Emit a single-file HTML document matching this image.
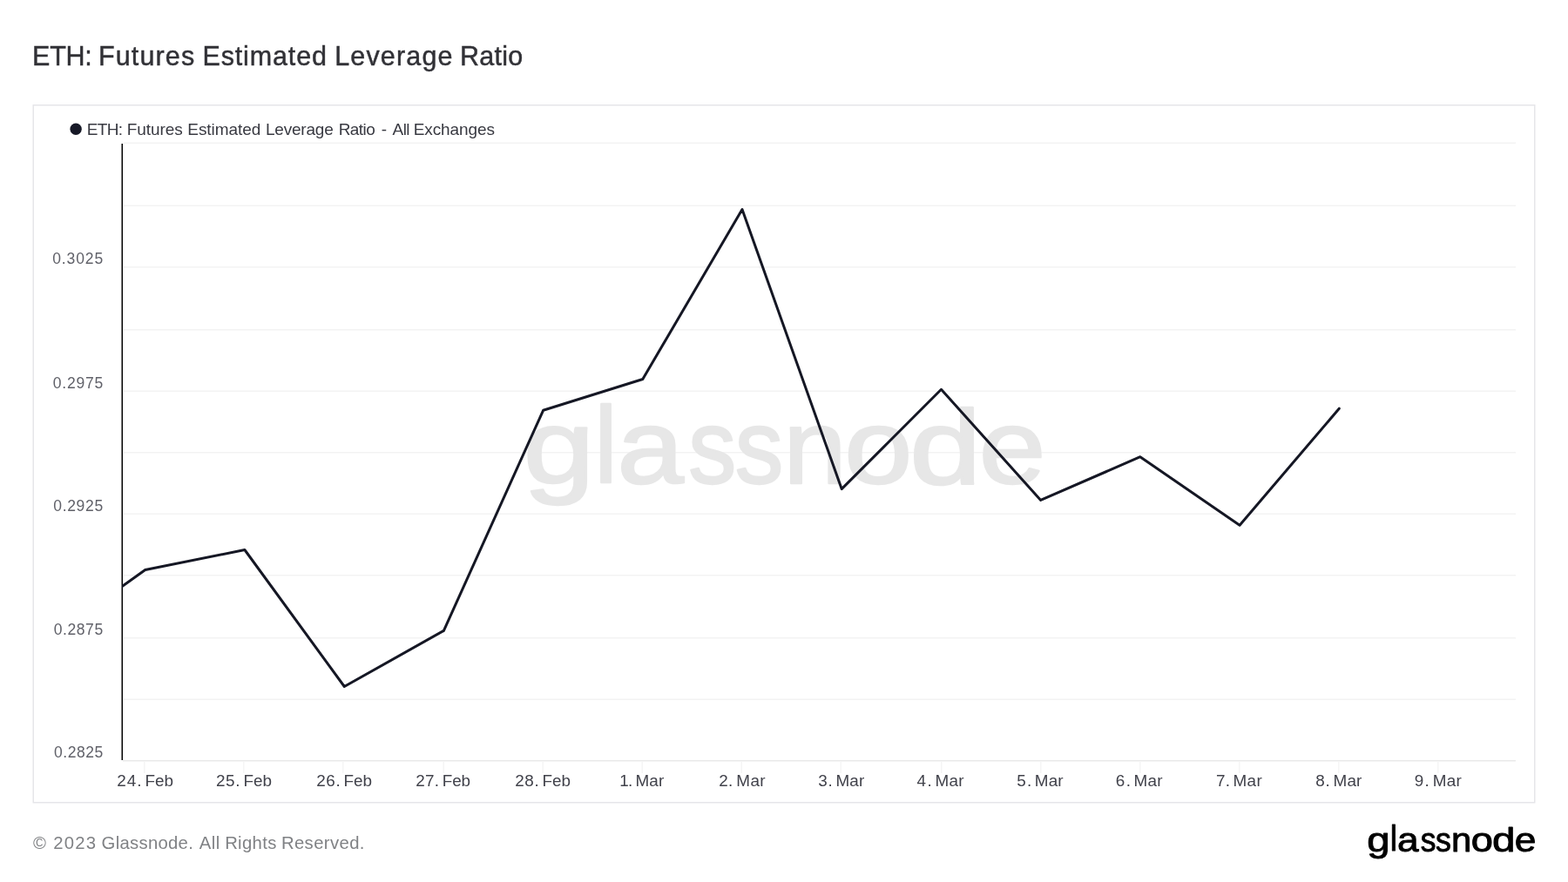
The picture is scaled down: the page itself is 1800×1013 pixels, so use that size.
<!DOCTYPE html>
<html lang="en">
<head>
<meta charset="utf-8">
<title>ETH: Futures Estimated Leverage Ratio</title>
<style>
  html, body { margin: 0; padding: 0; background: #ffffff; }
  body { width: 1800px; height: 1013px; overflow: hidden; position: relative; }
  svg { position: absolute; left: 0; top: 0; display: block; }
  text { font-family: "Liberation Sans", sans-serif; white-space: pre; }
  .title { font-size: 30.5px; fill: #313136; stroke: #313136; stroke-width: 0.45px; }
  .legend { font-size: 19.0px; fill: #383941; }
  .xl { font-size: 18.9px; fill: #41424b; }
  .yl { font-size: 17.5px; fill: #606169; }
  .foot { font-size: 20.3px; fill: #808285; }
  .wm { font-size: 121px; fill: #e7e7e7; stroke: #e7e7e7; stroke-width: 2.4px; stroke-linejoin: round; }
  .logo { font-size: 39.25px; fill: #000000; stroke: #000000; stroke-width: 0.9px; stroke-linejoin: round; }
  .grid line { stroke: #f3f3f3; stroke-width: 1.5; }
  .ticks line { stroke: #f5f5f5; stroke-width: 1.5; }
</style>
</head>
<body>
<svg width="1800" height="1013" viewBox="0 0 1800 1013">
  <rect x="0" y="0" width="1800" height="1013" fill="#ffffff"/>
  <!-- title -->
  <text class="title" y="74.75"><tspan x="37.05" letter-spacing="-0.228">ETH:</tspan> <tspan x="112.90" letter-spacing="1.159">Futures</tspan> <tspan x="232.45" letter-spacing="0.865">Estimated</tspan> <tspan x="384.25" letter-spacing="1.149">Leverage</tspan> <tspan x="527.91" letter-spacing="0.264">Ratio</tspan></text>
  <!-- chart frame -->
  <rect x="38.25" y="120.75" width="1723.5" height="801" fill="#ffffff" stroke="#e6e6e9" stroke-width="1.5"/>
  <!-- legend -->
  <circle cx="87.1" cy="148.3" r="6.7" fill="#171927"/>
  <text class="legend" y="155.1"><tspan x="99.63" letter-spacing="-0.600">ETH:</tspan> <tspan x="145.72" letter-spacing="-0.064">Futures</tspan> <tspan x="215.27" letter-spacing="-0.059">Estimated</tspan> <tspan x="304.92" letter-spacing="-0.196">Leverage</tspan> <tspan x="388.70" letter-spacing="-0.581">Ratio</tspan> <tspan x="437.71" letter-spacing="0.000">-</tspan> <tspan x="450.61" letter-spacing="-0.600">All</tspan> <tspan x="474.72" letter-spacing="-0.094">Exchanges</tspan></text>
  <!-- horizontal grid lines -->
  <g class="grid">
    <line x1="141.75" x2="1740" y1="164.25" y2="164.25"/>
    <line x1="141.75" x2="1740" y1="236.25" y2="236.25"/>
    <line x1="141.75" x2="1740" y1="306.75" y2="306.75"/>
    <line x1="141.75" x2="1740" y1="378.75" y2="378.75"/>
    <line x1="141.75" x2="1740" y1="449.25" y2="449.25"/>
    <line x1="141.75" x2="1740" y1="519.75" y2="519.75"/>
    <line x1="141.75" x2="1740" y1="590.25" y2="590.25"/>
    <line x1="141.75" x2="1740" y1="660.75" y2="660.75"/>
    <line x1="141.75" x2="1740" y1="732.75" y2="732.75"/>
    <line x1="141.75" x2="1740" y1="803.25" y2="803.25"/>
  </g>
  <!-- watermark -->
  <text class="wm"><tspan x="600.73" y="555.20" textLength="81.75" lengthAdjust="spacingAndGlyphs">g</tspan><tspan x="682.25" y="553.60" font-size="124.00" textLength="26.54" lengthAdjust="spacingAndGlyphs">l</tspan><tspan x="708.47" y="555.20" textLength="76.33" lengthAdjust="spacingAndGlyphs">a</tspan><tspan x="790.34" y="555.20" textLength="54.93" lengthAdjust="spacingAndGlyphs">s</tspan><tspan x="843.71" y="555.20" textLength="55.50" lengthAdjust="spacingAndGlyphs">s</tspan><tspan x="899.26" y="555.20" textLength="72.40" lengthAdjust="spacingAndGlyphs">n</tspan><tspan x="969.20" y="555.20" textLength="78.09" lengthAdjust="spacingAndGlyphs">o</tspan><tspan x="1044.20" y="555.20" textLength="82.12" lengthAdjust="spacingAndGlyphs">d</tspan><tspan x="1123.74" y="555.20" textLength="76.68" lengthAdjust="spacingAndGlyphs">e</tspan></text>
  <!-- x axis line + ticks -->
  <line x1="141" x2="1740" y1="873.75" y2="873.75" stroke="#e9e9e9" stroke-width="1.5"/>
  <g class="ticks">
    <line x1="165.75" x2="165.75" y1="874.5" y2="888"/>
    <line x1="279.75" x2="279.75" y1="874.5" y2="888"/>
    <line x1="393.75" x2="393.75" y1="874.5" y2="888"/>
    <line x1="509.25" x2="509.25" y1="874.5" y2="888"/>
    <line x1="623.25" x2="623.25" y1="874.5" y2="888"/>
    <line x1="737.25" x2="737.25" y1="874.5" y2="888"/>
    <line x1="851.25" x2="851.25" y1="874.5" y2="888"/>
    <line x1="965.25" x2="965.25" y1="874.5" y2="888"/>
    <line x1="1080.75" x2="1080.75" y1="874.5" y2="888"/>
    <line x1="1194.75" x2="1194.75" y1="874.5" y2="888"/>
    <line x1="1308.75" x2="1308.75" y1="874.5" y2="888"/>
    <line x1="1422.75" x2="1422.75" y1="874.5" y2="888"/>
    <line x1="1536.75" x2="1536.75" y1="874.5" y2="888"/>
    <line x1="1650.75" x2="1650.75" y1="874.5" y2="888"/>
  </g>
  <!-- y axis line -->
  <line x1="140.25" x2="140.25" y1="165" y2="873" stroke="#000000" stroke-width="1.5"/>
  <!-- series -->
  <clipPath id="plotclip"><rect x="140.25" y="164.25" width="1599.75" height="709.5"/></clipPath>
  <polyline clip-path="url(#plotclip)" fill="none" stroke="#151724" stroke-width="3" stroke-linejoin="round" stroke-linecap="round"
    points="130,680.9 166.7,654.5 280.9,631.5 395.3,788.5 509.4,724.4 623.6,471.3 737.8,435.5 852,240.5 966.2,561.6 1080.5,447.3 1194.7,574.4 1308.9,524.7 1423.1,603.3 1537.3,469.2"/>
  <!-- y labels -->
  <text class="yl" y="303.1"><tspan x="60.18" letter-spacing="0.884">0.3025</tspan></text>
  <text class="yl" y="445.6"><tspan x="60.76" letter-spacing="0.783">0.2975</tspan></text>
  <text class="yl" y="586.9"><tspan x="61.29" letter-spacing="0.662">0.2925</tspan></text>
  <text class="yl" y="729.1"><tspan x="61.68" letter-spacing="0.598">0.2875</tspan></text>
  <text class="yl" y="870.1"><tspan x="61.91" letter-spacing="0.567">0.2825</tspan></text>
  <!-- x labels -->
  <text class="xl" y="902.9"><tspan x="134.28" letter-spacing="0.944">24.</tspan> <tspan x="166.60" letter-spacing="-0.046">Feb</tspan></text>
  <text class="xl" y="902.9"><tspan x="247.96" letter-spacing="0.603">25.</tspan> <tspan x="279.44" letter-spacing="0.032">Feb</tspan></text>
  <text class="xl" y="902.9"><tspan x="363.28" letter-spacing="0.567">26.</tspan> <tspan x="394.60" letter-spacing="-0.122">Feb</tspan></text>
  <text class="xl" y="902.9"><tspan x="477.16" letter-spacing="0.264">27.</tspan> <tspan x="507.74" letter-spacing="-0.119">Feb</tspan></text>
  <text class="xl" y="902.9"><tspan x="591.16" letter-spacing="0.627">28.</tspan> <tspan x="622.60" letter-spacing="-0.046">Feb</tspan></text>
  <text class="xl" y="902.9"><tspan x="711.14" letter-spacing="-0.600">1.</tspan> <tspan x="729.44" letter-spacing="0.169">Mar</tspan></text>
  <text class="xl" y="902.9"><tspan x="825.16" letter-spacing="0.313">2.</tspan> <tspan x="845.24" letter-spacing="0.436">Mar</tspan></text>
  <text class="xl" y="902.9"><tspan x="939.28" letter-spacing="0.715">3.</tspan> <tspan x="959.44" letter-spacing="0.169">Mar</tspan></text>
  <text class="xl" y="902.9"><tspan x="1052.51" letter-spacing="1.522">4.</tspan> <tspan x="1073.60" letter-spacing="0.259">Mar</tspan></text>
  <text class="xl" y="902.9"><tspan x="1167.16" letter-spacing="1.259">5.</tspan> <tspan x="1187.74" letter-spacing="0.187">Mar</tspan></text>
  <text class="xl" y="902.9"><tspan x="1280.86" letter-spacing="1.341">6.</tspan> <tspan x="1301.60" letter-spacing="0.159">Mar</tspan></text>
  <text class="xl" y="902.9"><tspan x="1395.95" letter-spacing="0.400">7.</tspan> <tspan x="1415.60" letter-spacing="0.295">Mar</tspan></text>
  <text class="xl" y="902.9"><tspan x="1510.23" letter-spacing="0.770">8.</tspan> <tspan x="1530.51" letter-spacing="0.166">Mar</tspan></text>
  <text class="xl" y="902.9"><tspan x="1623.87" letter-spacing="1.125">9.</tspan> <tspan x="1644.67" letter-spacing="0.295">Mar</tspan></text>
  <!-- footer -->
  <text class="foot" y="974.9"><tspan x="38.10" letter-spacing="0.000">©</tspan> <tspan x="61.16" letter-spacing="1.271">2023</tspan> <tspan x="116.60" letter-spacing="0.293">Glassnode.</tspan> <tspan x="228.67" letter-spacing="0.517">All</tspan> <tspan x="258.13" letter-spacing="0.347">Rights</tspan> <tspan x="322.92" letter-spacing="0.392">Reserved.</tspan></text>
  <text class="logo"><tspan x="1569.16" y="977.60" textLength="26.36" lengthAdjust="spacingAndGlyphs">g</tspan><tspan x="1595.68" y="977.08" font-size="40.22" textLength="8.30" lengthAdjust="spacingAndGlyphs">l</tspan><tspan x="1604.10" y="977.60" textLength="24.63" lengthAdjust="spacingAndGlyphs">a</tspan><tspan x="1630.66" y="977.60" textLength="17.68" lengthAdjust="spacingAndGlyphs">s</tspan><tspan x="1647.97" y="977.60" textLength="17.86" lengthAdjust="spacingAndGlyphs">s</tspan><tspan x="1665.99" y="977.60" textLength="23.32" lengthAdjust="spacingAndGlyphs">n</tspan><tspan x="1688.67" y="977.60" textLength="25.19" lengthAdjust="spacingAndGlyphs">o</tspan><tspan x="1713.00" y="977.60" textLength="26.48" lengthAdjust="spacingAndGlyphs">d</tspan><tspan x="1738.80" y="977.60" textLength="24.73" lengthAdjust="spacingAndGlyphs">e</tspan></text>
</svg>
</body>
</html>
